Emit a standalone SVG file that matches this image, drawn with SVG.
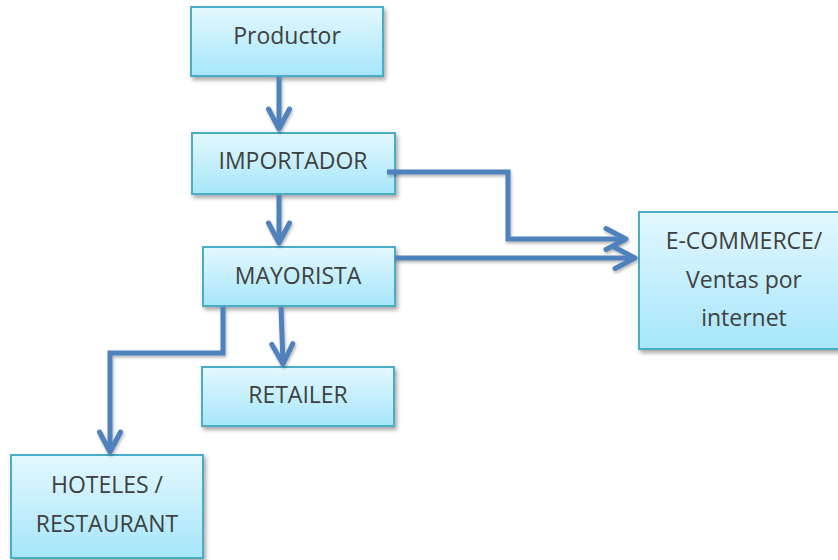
<svg xmlns="http://www.w3.org/2000/svg" width="838" height="560" viewBox="0 0 838 560">
<style>
.box{fill:url(#g);stroke:#4BACC6;stroke-width:2;filter:url(#sh)}
.t{font-family:"Open Sans","Liberation Sans",sans-serif;font-size:23px;fill:#404040;text-anchor:middle}
.c{fill:none;stroke:#4F81BD;stroke-width:5;stroke-linejoin:miter;filter:url(#sh2)}
</style>
<defs>
<linearGradient id="g" x1="0" y1="0" x2="0" y2="1">
<stop offset="0" stop-color="#E3F8FE"/>
<stop offset="1" stop-color="#A6E6FA"/>
</linearGradient>
<filter id="sh" x="-10%" y="-10%" width="130%" height="140%">
<feGaussianBlur in="SourceAlpha" stdDeviation="2"/>
<feOffset dx="2" dy="3" result="b"/>
<feComponentTransfer><feFuncA type="linear" slope="0.35"/></feComponentTransfer>
<feMerge><feMergeNode/><feMergeNode in="SourceGraphic"/></feMerge>
</filter>
<filter id="sh2" filterUnits="userSpaceOnUse" x="0" y="0" width="838" height="560">
<feGaussianBlur in="SourceAlpha" stdDeviation="1.5"/>
<feOffset dx="1" dy="2" result="b"/>
<feComponentTransfer><feFuncA type="linear" slope="0.3"/></feComponentTransfer>
<feMerge><feMergeNode/><feMergeNode in="SourceGraphic"/></feMerge>
</filter>
<marker id="ar" markerUnits="userSpaceOnUse" viewBox="-25 -14 30 28" refX="0" refY="0" markerWidth="30" markerHeight="28" orient="auto" overflow="visible">
<path d="M-20,-10.5 L0,0 L-20,10.5" fill="none" stroke="#4F81BD" stroke-width="5" stroke-linecap="round" stroke-linejoin="round"/>
</marker>
</defs>
<g id="productor"><rect class="box" x="191" y="7" width="192" height="69"/><text class="t" x="287" y="44">Productor</text></g>
<g id="importador"><rect class="box" x="192" y="133" width="203" height="61"/><text class="t" x="293" y="169">IMPORTADOR</text></g>
<g id="mayorista"><rect class="box" x="203" y="247" width="192" height="59"/><text class="t" x="298" y="284">MAYORISTA</text></g>
<g id="retailer"><rect class="box" x="202" y="367" width="192" height="59"/><text class="t" x="298" y="403">RETAILER</text></g>
<g id="hoteles"><rect class="box" x="11" y="455" width="192" height="103"/><text class="t" x="107" y="493">HOTELES /</text><text class="t" x="107" y="532">RESTAURANT</text></g>
<g id="ecommerce"><rect class="box" x="639" y="212" width="205" height="137"/><text class="t" x="744" y="249">E-COMMERCE/</text><text class="t" x="744" y="288">Ventas por</text><text class="t" x="744" y="326">internet</text></g>
<g id="connectors">
<path class="c" d="M279,77 L279,129" marker-end="url(#ar)"/>
<path class="c" d="M279,195 L279,243" marker-end="url(#ar)"/>
<path class="c" d="M281,307 L283,364" marker-end="url(#ar)"/>
<path class="c" d="M223,307 L223,353 L110,353 L110,452" marker-end="url(#ar)"/>
<path class="c" d="M387,172 L508,172 L508,239 L626,239" marker-end="url(#ar)"/>
<path class="c" d="M395,258 L635,258" marker-end="url(#ar)"/>
</g>
</svg>
